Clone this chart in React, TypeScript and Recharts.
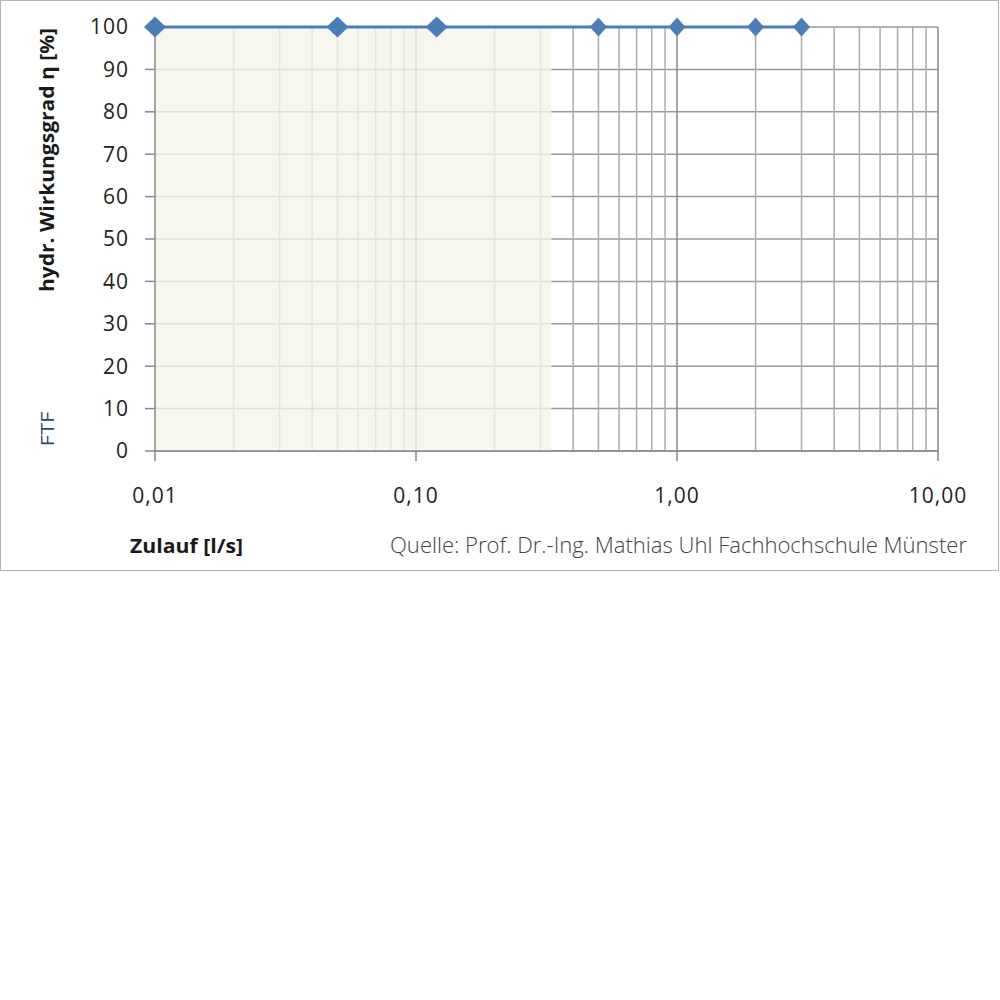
import React from 'react';
import {
  ComposedChart,
  Line,
  XAxis,
  YAxis,
  CartesianGrid,
  ReferenceArea,
} from 'recharts';

// Zulauf [l/s] and hydraulic efficiency [%]
const inflow = [0.01, 0.05, 0.12, 0.5, 1.0, 2.0, 3.0];
const efficiency = [100, 100, 100, 100, 100, 100, 100];

const xTicks = [0.01, 0.1, 1, 10];
const yTicks = [0, 10, 20, 30, 40, 50, 60, 70, 80, 90, 100];
const minorX = [
  0.02, 0.03, 0.04, 0.05, 0.06, 0.07, 0.08, 0.09,
  0.2, 0.3, 0.4, 0.5, 0.6, 0.7, 0.8, 0.9,
  2, 3, 4, 5, 6, 7, 8, 9,
];
const majorX = [0.1, 1, 10];
const shadedRange = [0.01, 0.33];

const data = inflow.map((x, i) => ({ x, eta: efficiency[i] }));

const BLUE = '#4a7ebb';
const FONT = '"Open Sans", "DejaVu Sans", sans-serif';

const Diamond = (props: any) => {
  const { cx, cy, index } = props;
  if (cx == null || cy == null) return <g key={`d-${index}`} />;
  const big = index < 3;
  const w = big ? 11 : 8.5;
  const h = big ? 10.5 : 9.5;
  return (
    <path
      key={`d-${index}`}
      d={`M${cx},${cy - h} L${cx + w},${cy} L${cx},${cy + h} L${cx - w},${cy} Z`}
      fill={BLUE}
      stroke="none"
    />
  );
};

const fmt = (v: number) => v.toFixed(2).replace('.', ',');

const tickStyle = { fill: '#222', fontSize: 21, fontFamily: FONT, letterSpacing: 1 };

export default function App() {
  return (
    <div
      style={{
        position: 'absolute',
        left: 0,
        top: 0,
        width: 997,
        height: 569,
        border: '1px solid #b4b4b4',
        background: '#fff',
        fontFamily: FONT,
      }}
    >
      <ComposedChart
        width={1000}
        height={570}
        data={data}
        margin={{ top: 27, right: 62, bottom: 69, left: 95 }}
        style={{ position: 'absolute', left: -1, top: -1 }}
      >
        <CartesianGrid vertical={false} stroke="#999" strokeWidth={1.5} />
        <CartesianGrid horizontal={false} verticalValues={minorX} stroke="#ababab" strokeWidth={1.5} />
        <CartesianGrid horizontal={false} verticalValues={majorX} stroke="#888" strokeWidth={1.5} />
        <ReferenceArea
          x1={shadedRange[0]}
          x2={shadedRange[1]}
          y1={0}
          y2={100}
          fill="#f5f5ec"
          fillOpacity={0.78}
          stroke="none"
          ifOverflow="visible"
        />
        <XAxis
          dataKey="x"
          type="number"
          scale="log"
          domain={[0.01, 10]}
          ticks={xTicks}
          interval={0}
          tickFormatter={fmt}
          tickSize={10}
          tickMargin={27}
          height={50}
          axisLine={{ stroke: '#888', strokeWidth: 1.5 }}
          tickLine={{ stroke: '#888', strokeWidth: 1.5 }}
          tick={tickStyle}
        />
        <YAxis
          type="number"
          domain={[0, 100]}
          ticks={yTicks}
          interval={0}
          width={60}
          tickSize={10}
          tickMargin={16}
          axisLine={{ stroke: '#888', strokeWidth: 1.5 }}
          tickLine={{ stroke: '#888', strokeWidth: 1.5 }}
          tick={tickStyle}
        />
        <Line
          dataKey="eta"
          stroke={BLUE}
          strokeWidth={2.8}
          dot={Diamond}
          activeDot={false}
          isAnimationActive={false}
        />
      </ComposedChart>

      <svg
        width={1000}
        height={570}
        style={{ position: 'absolute', left: -1, top: -1, pointerEvents: 'none' }}
      >
        <text
          transform="translate(54,160) rotate(-90)"
          textAnchor="middle"
          fontFamily={FONT}
          fontSize={19}
          fontWeight={700}
          fill="#1a1a1a"
          textLength={264}
          lengthAdjust="spacingAndGlyphs"
        >
          hydr. Wirkungsgrad η [%]
        </text>
        <text
          transform="translate(54,429) rotate(-90)"
          textAnchor="middle"
          fontFamily={FONT}
          fontSize={19}
          fill="#2b4a6b"
          textLength={35}
          lengthAdjust="spacingAndGlyphs"
        >
          FTF
        </text>
        <text
          x={130}
          y={553}
          fontFamily={FONT}
          fontSize={19}
          fontWeight={700}
          fill="#1a1a1a"
          textLength={113}
          lengthAdjust="spacingAndGlyphs"
        >
          Zulauf [l/s]
        </text>
        <text
          x={390}
          y={553}
          fontFamily={FONT}
          fontSize={22}
          fontWeight={300}
          fill="#444"
          textLength={577}
          lengthAdjust="spacingAndGlyphs"
        >
          Quelle: Prof. Dr.-Ing. Mathias Uhl Fachhochschule Münster
        </text>
      </svg>
    </div>
  );
}
